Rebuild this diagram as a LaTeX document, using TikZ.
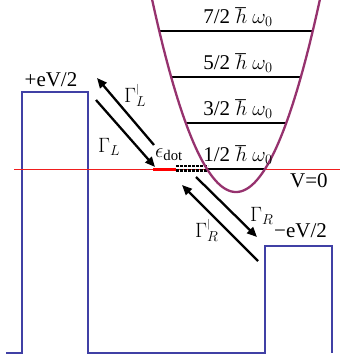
\documentclass[tikz,border=0pt]{standalone}
\usepackage{fontspec}
\setmainfont{Liberation Serif}
\usetikzlibrary{arrows.meta}
\definecolor{barrier}{RGB}{64,64,165}
\definecolor{parab}{RGB}{150,50,110}
\definecolor{vline}{RGB}{240,30,30}
\begin{document}
\begin{tikzpicture}[x=1pt,y=-1pt,
  lbl/.style={font=\fontsize{21}{24}\selectfont, inner sep=0pt},
  arr/.style={line width=2.3pt, -{Triangle[length=10pt,width=8.5pt]}},
  level/.style={line width=2pt, black}]
\useasboundingbox (0,0) rectangle (354,354);
% barriers
\draw[barrier, line width=2.5pt, line join=miter]
  (6,353) -- (22,353) -- (22,92) -- (88,92) -- (88,353) -- (265,353)
  -- (265,246) -- (332,246) -- (332,353);
% V=0 line
\draw[vline, line width=1.2pt] (14,169.5) -- (340,169.5);
\draw[red, line width=2.8pt] (153,169.5) -- (176,169.5);
% dot level (dashed)
\draw[black, line width=2.6pt, dash pattern=on 2.6pt off 1.4pt] (176,166) -- (208,166);
\draw[black, line width=2.6pt, dash pattern=on 2.6pt off 1.4pt] (176,170.3) -- (208,170.3);
% vibrational levels
\draw[level] (207,169) -- (265,169);
\draw[level] (186,123) -- (286,123);
\draw[level] (171,77) -- (301,77);
\draw[level] (159,31) -- (313,31);
% parabola
\draw[parab, line width=2.3pt, domain=151.6:320.4, samples=120, smooth]
  plot (\x, {192-0.02735*(\x-236)*(\x-236)});
% level labels
\node[lbl, anchor=base] (l7) at (238,23) {7/2 $\hbar$ $\omega_0$};
\node[lbl, anchor=base] (l5) at (238,69) {5/2 $\hbar$ $\omega_0$};
\node[lbl, anchor=base] (l3) at (238,115) {3/2 $\hbar$ $\omega_0$};
\node[lbl, anchor=base] (l1) at (238,161) {1/2 $\hbar$ $\omega_0$};
% arrows
\coordinate (aLpT) at (154,145); \coordinate (aLpH) at (97,78);
\coordinate (aLT) at (96,100);   \coordinate (aLH) at (155,167);
\coordinate (aRT) at (196,177);  \coordinate (aRH) at (257,237);
\coordinate (aRpT) at (258,261); \coordinate (aRpH) at (182,185);
\draw[arr] (aLpT) -- (aLpH);
\draw[arr] (aLT) -- (aLH);
\draw[arr] (aRT) -- (aRH);
\draw[arr] (aRpT) -- (aRpH);
% labels
\node[lbl, anchor=base] (vl) at (51,86) {+eV/2};
\node[lbl, anchor=base west] (gLp) at (124,102) {$\Gamma^{\scriptscriptstyle|}_L$};
\node[lbl, anchor=base west] (gL) at (98,152) {$\Gamma_L$};
\node[lbl, anchor=base west] (eps) at (155,157.5) {$\epsilon_{\mathrm{dot}}$};
\node[lbl, anchor=base west] (v0) at (290,187) {V=0};
\node[lbl, anchor=base west] (vr) at (274,237) {−eV/2};
\node[lbl, anchor=base west] (gR) at (250,221) {$\Gamma_R$};
\node[lbl, anchor=base west] (gRp) at (195,237) {$\Gamma^{\scriptscriptstyle|}_R$};
\end{tikzpicture}
\end{document}
